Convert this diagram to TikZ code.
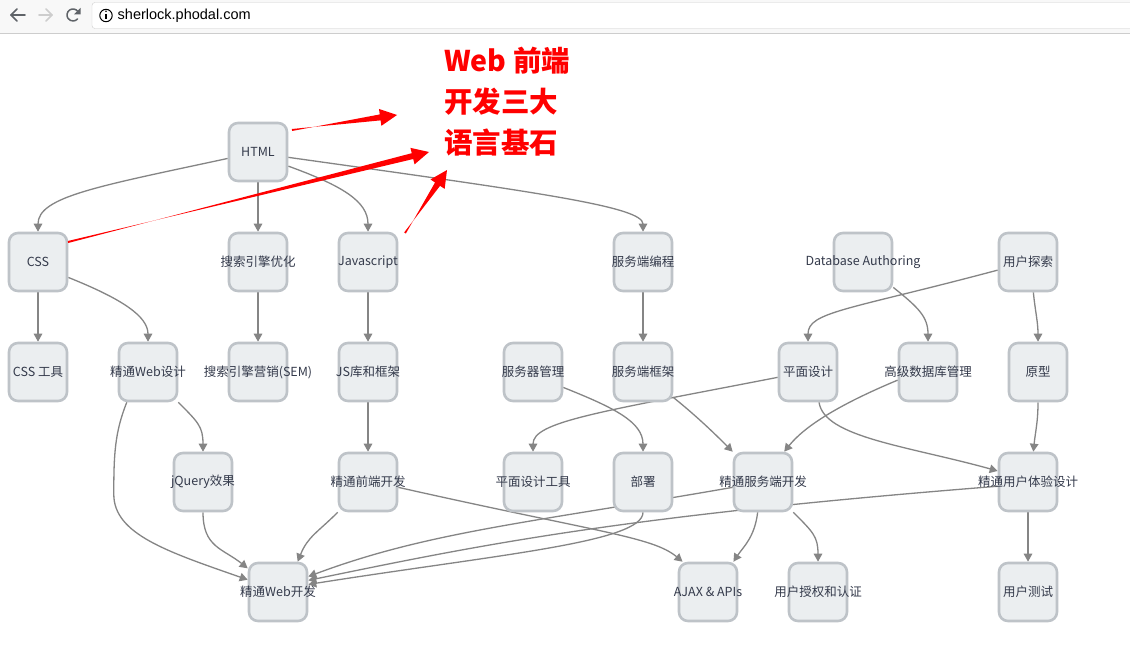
\documentclass[tikz,border=0pt]{standalone}
\usepackage{fontspec}
\newfontfamily\cjk{Noto Sans CJK SC}
\newfontfamily\urlfont{Liberation Sans}
\usetikzlibrary{arrows.meta, calc}
\definecolor{boxfill}{RGB}{235,238,240}
\definecolor{boxline}{RGB}{190,195,200}
\definecolor{edgegray}{RGB}{133,133,133}
\definecolor{nodetext}{RGB}{52,58,75}
\definecolor{barbg}{RGB}{248,248,248}
\definecolor{barline}{RGB}{205,205,205}
\definecolor{icongray}{RGB}{95,99,104}
\pgfdeclarelayer{back}
\pgfdeclarelayer{bg}
\pgfsetlayers{back,bg,main}

\begin{document}
\begin{tikzpicture}[x=1pt, y=-1pt,
  skill/.style={draw=boxline, fill=boxfill, line width=2.6pt, rounded corners=9pt, minimum width=58pt, minimum height=58pt, inner sep=0pt, label={[skilltext]center:#1}},
  skilltext/.style={font=\cjk\fontsize{12.5}{14}\selectfont, text=nodetext, inner sep=0pt},
  link/.style={draw=edgegray, line width=1.3pt, -{Triangle[length=8pt,width=8.5pt]}},
  icon/.style={draw=icongray, line width=1.6pt, line cap=round, line join=round}]
\begin{pgfonlayer}{back}
\fill[white] (0,0) rectangle (1130,658);
\end{pgfonlayer}
\useasboundingbox (0,0) rectangle (1130,658);
\clip (0,0) rectangle (1130,658);

\fill[barbg] (0,0) rectangle (1130,33);
\draw[barline] (0,33.5) -- (1130,33.5);
\draw[barline, fill=white, rounded corners=3pt] (92,2.5) rectangle (1140,28.5);
\draw[icon] (25,15) -- (11,15);
\draw[icon] (17,9) -- (11,15) -- (17,21);
\draw[icon, draw=barline] (39,15) -- (52,15);
\draw[icon, draw=barline] (46,9) -- (52,15) -- (46,21);
\draw[icon, line width=1.5pt] (73,15) ++(-35:6) arc[start angle=-35, end angle=-320, radius=6];
\fill[icongray] (80.5,8) -- (80.5,14.5) -- (74,14.5) -- cycle;
\draw[black, line width=1pt] (106,15.5) circle[radius=6.2];
\draw[black, line width=1.2pt] (106,14) -- (106,19.5);
\fill[black] (106,11.3) circle[radius=0.9];
\node[anchor=west, inner sep=0pt, font=\urlfont\fontsize{14.5}{16}\selectfont] (url) at (117.5,15.5) {sherlock.phodal.com};

\node[skill=HTML] (h) at (258,152) {};
\node[skill=CSS] (css) at (38,262) {};
\node[skill=搜索引擎优化] (seo) at (258,262) {};
\node[skill=Javascript] (js) at (368,262) {};
\node[skill=服务端编程] (sp) at (643,262) {};
\node[skill=Database Authoring] (db) at (863,262) {};
\node[skill=用户探索] (ue) at (1028,262) {};
\node[skill=CSS 工具] (csst) at (38,372) {};
\node[skill=精通Web设计] (wd) at (148,372) {};
\node[skill=搜索引擎营销(SEM)] (sem) at (258,372) {};
\node[skill=JS库和框架] (jsf) at (368,372) {};
\node[skill=服务器管理] (sm) at (533,372) {};
\node[skill=服务端框架] (sf) at (643,372) {};
\node[skill=平面设计] (pd) at (808,372) {};
\node[skill=高级数据库管理] (adb) at (928,372) {};
\node[skill=原型] (pt) at (1038,372) {};
\node[skill=jQuery效果] (jq) at (203,482) {};
\node[skill=精通前端开发] (fd) at (368,482) {};
\node[skill=平面设计工具] (pdt) at (533,482) {};
\node[skill=部署] (dep) at (643,482) {};
\node[skill=精通服务端开发] (sdev) at (763,482) {};
\node[skill=精通用户体验设计] (ux) at (1028,482) {};
\node[skill=精通Web开发] (wdev) at (278,592) {};
\node[skill={AJAX \& APIs}] (ajax) at (708,592) {};
\node[skill=用户授权和认证] (auth) at (818,592) {};
\node[skill=用户测试] (ut) at (1028,592) {};

\begin{pgfonlayer}{bg}
\draw[link] (h.192) .. controls +(-130,28) and +(0,-35) .. (css.north);
\draw[link] (h.south) -- (seo.north);
\draw[link] (h.-25) .. controls +(55,20) and +(0,-30) .. (js.north);
\draw[link] (h.-10) .. controls +(250,35) and +(0,-25) .. (sp.north);
\draw[link] (css.south) -- (csst.north);
\draw[link] (css.-27) .. controls +(55,22) and +(0,-25) .. (wd.north);
\draw[link] (seo.south) -- (sem.north);
\draw[link] (js.south) -- (jsf.north);
\draw[link] (sp.south) -- (sf.north);
\draw[link] (db.-40) .. controls +(25,20) and +(0,-25) .. (adb.north);
\draw[link] (ue.195) .. controls +(-150,40) and +(0,-30) .. (pd.north);
\draw[link] (ue.-80) .. controls +(2,20) and +(0,-20) .. (pt.north);
\draw[link] (wd.-45) .. controls +(20,20) and +(0,-25) .. (jq.north);
\draw[link] (wd.235) .. controls +(-12,30) and +(0,-40) .. ++(-13,92) .. controls +(0,40) and +(-80,-28) .. (wdev.158);
\draw[link] (jsf.south) -- (fd.north);
\draw[link] (sm.-27) .. controls +(50,20) and +(0,-30) .. (dep.north);
\draw[link] (pd.190) .. controls +(-180,35) and +(0,-30) .. (pdt.north);
\draw[link] (sf.-40) .. controls +(25,20) and +(-15,-15) .. (sdev.135);
\draw[link] (adb.195) .. controls +(-60,25) and +(20,-25) .. (sdev.55);
\draw[link] (pd.-70) .. controls +(5,35) and +(-90,-25) .. (ux.160);
\draw[link] (pt.south) .. controls +(0,20) and +(2,-20) .. (ux.80);
\draw[link] (jq.south) .. controls +(0,35) and +(-25,-20) .. (wdev.142);
\draw[link] (fd.-135) .. controls +(-20,20) and +(10,-25) .. (wdev.57);
\draw[link] (fd.-10) .. controls +(200,45) and +(-30,-25) .. (ajax.130);
\draw[link] (dep.south) .. controls +(0,30) and +(190,-30) .. (wdev.14);
\draw[link] (sdev.190) .. controls +(-200,35) and +(120,-45) .. (wdev.27);
\draw[link] (ux.188) .. controls +(-380,30) and +(170,-35) .. (wdev.21);
\draw[link] (sdev.-100) .. controls +(-3,25) and +(10,-15) .. (ajax.50);
\draw[link] (sdev.-45) .. controls +(20,20) and +(0,-25) .. (auth.north);
\draw[link] (ux.south) -- (ut.north);
\end{pgfonlayer}

\node[anchor=west, align=left, inner sep=0pt, text=red, font=\cjk\bfseries\fontsize{28.5}{41}\selectfont] (note) at (444,102) {Web 前端\\开发三大\\语言基石};

\coordinate (s1) at (292,130);
\coordinate (t1) at (397,115);
\coordinate (s2) at (68,242);
\coordinate (t2) at (429,152);
\coordinate (s3) at (405,233);
\coordinate (t3) at (447,170);
\coordinate (b1) at ($(t1)!17pt!(s1)$);
\coordinate (b2) at ($(t2)!17pt!(s2)$);
\coordinate (b3) at ($(t3)!17pt!(s3)$);
\fill[red] ($(s1)!1pt!90:(t1)$) -- ($(b1)!3pt!-90:(t1)$) -- ($(b1)!8.5pt!-90:(t1)$) -- (t1) -- ($(b1)!8.5pt!90:(t1)$) -- ($(b1)!3pt!90:(t1)$) -- ($(s1)!1pt!-90:(t1)$) -- cycle;
\fill[red] ($(s2)!1pt!90:(t2)$) -- ($(b2)!3pt!-90:(t2)$) -- ($(b2)!8.5pt!-90:(t2)$) -- (t2) -- ($(b2)!8.5pt!90:(t2)$) -- ($(b2)!3pt!90:(t2)$) -- ($(s2)!1pt!-90:(t2)$) -- cycle;
\fill[red] ($(s3)!1pt!90:(t3)$) -- ($(b3)!3pt!-90:(t3)$) -- ($(b3)!8.5pt!-90:(t3)$) -- (t3) -- ($(b3)!8.5pt!90:(t3)$) -- ($(b3)!3pt!90:(t3)$) -- ($(s3)!1pt!-90:(t3)$) -- cycle;
\end{tikzpicture}
\end{document}
